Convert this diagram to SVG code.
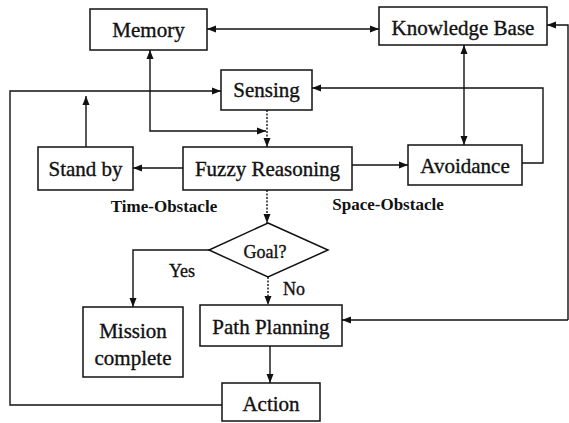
<svg xmlns="http://www.w3.org/2000/svg" width="569" height="423" viewBox="0 0 569 423" font-family="Liberation Serif, serif">
<style>
.box{fill:#fff;stroke:#111;stroke-width:1.5}
.t{font-size:21px;fill:#111;text-anchor:middle;stroke:#111;stroke-width:0.35}
.s{font-size:18px}
.lbl{font-size:17px;font-weight:bold;fill:#111;text-anchor:middle}
.c{fill:none;stroke:#111;stroke-width:1.4}
.d{stroke-dasharray:2 1.5}
</style>
<defs>
<marker id="a" markerUnits="userSpaceOnUse" markerWidth="10" markerHeight="8" refX="9" refY="4" orient="auto-start-reverse">
<path d="M0,0.5 L9,4 L0,7.5 Z" fill="#111"/>
</marker>
</defs>
<g id="connectors">
<path class="c" d="M207,29 H379" marker-start="url(#a)" marker-end="url(#a)"/>
<path class="c" d="M150,50 V131 H266" marker-start="url(#a)" marker-end="url(#a)"/>
<path class="c d" d="M267,110 V147" marker-end="url(#a)"/>
<path class="c" d="M464,45 V145" marker-start="url(#a)" marker-end="url(#a)"/>
<path class="c" d="M522,163 H543 V88 H312" marker-end="url(#a)"/>
<path class="c" d="M183,168 H133" marker-end="url(#a)"/>
<path class="c" d="M352,165 H408" marker-end="url(#a)"/>
<path class="c" d="M86,147 V96" marker-end="url(#a)"/>
<path class="c" d="M222,405 H10 V91 H221" marker-end="url(#a)"/>
<path class="c d" d="M267,190 V223" marker-end="url(#a)"/>
<path class="c" d="M209,250 H133 V307" marker-end="url(#a)"/>
<path class="c d" d="M268,277 V305" marker-end="url(#a)"/>
<path class="c" d="M270,346 V383" marker-end="url(#a)"/>
<path class="c" d="M568,320 H342" marker-end="url(#a)"/>
<path class="c" d="M568,320 V25 H547" marker-end="url(#a)"/>
</g>
<g id="memory"><rect class="box" x="90" y="9" width="117" height="41"/><text class="t" x="148.5" y="37">Memory</text></g>
<g id="knowledge-base"><rect class="box" x="379" y="7" width="168" height="38"/><text class="t" x="463" y="35">Knowledge Base</text></g>
<g id="sensing"><rect class="box" x="221" y="70" width="91" height="40"/><text class="t" x="266.5" y="97">Sensing</text></g>
<g id="stand-by"><rect class="box" x="38" y="147" width="95" height="43"/><text class="t" x="85.5" y="176">Stand by</text></g>
<g id="fuzzy-reasoning"><rect class="box" x="183" y="147" width="169" height="43"/><text class="t" x="267.5" y="176">Fuzzy Reasoning</text></g>
<g id="avoidance"><rect class="box" x="408" y="145" width="114" height="40"/><text class="t" x="465" y="173">Avoidance</text></g>
<g id="goal"><polygon class="box" points="268,223 328,250 268,277 209,250"/><text class="t s" x="265" y="258">Goal?</text></g>
<g id="mission-complete"><rect class="box" x="83" y="307" width="100" height="70"/><text class="t" x="133" y="338">Mission</text><text class="t" x="133" y="365">complete</text></g>
<g id="path-planning"><rect class="box" x="200" y="305" width="142" height="41"/><text class="t" x="271" y="334">Path Planning</text></g>
<g id="action"><rect class="box" x="222" y="383" width="98" height="38"/><text class="t" x="271" y="411">Action</text></g>
<g id="labels">
<text class="lbl" x="164" y="212">Time-Obstacle</text>
<text class="lbl" x="388" y="210">Space-Obstacle</text>
<text class="t s" x="182" y="277">Yes</text>
<text class="t s" x="294" y="295">No</text>
</g>
</svg>
